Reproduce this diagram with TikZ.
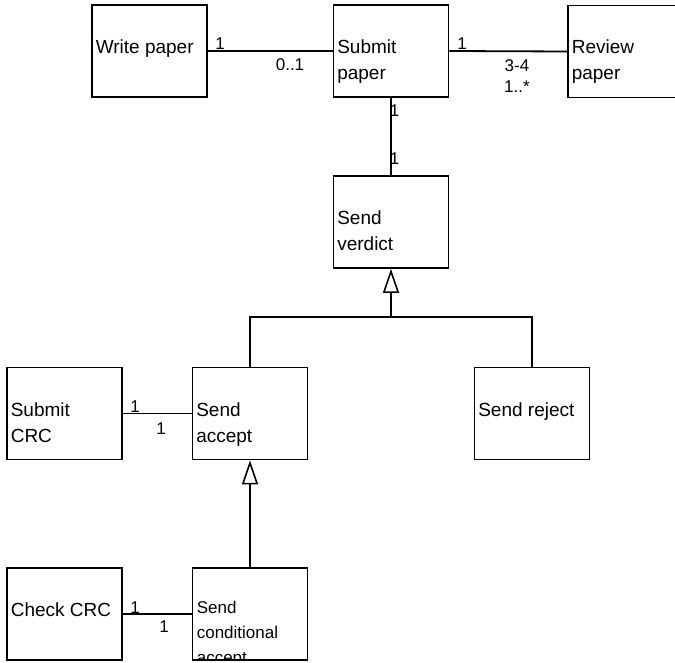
\documentclass[tikz,border=0pt]{standalone}
\usepackage{fontspec}
\setmainfont{Liberation Sans}
\usetikzlibrary{arrows.meta}
\begin{document}
\begin{tikzpicture}[x=1pt,y=-1pt,
  cls/.style={draw, line width=1.8pt, minimum width=115pt, minimum height=92pt,
    inner sep=0pt, fill=white},
  txt/.style={anchor=base west, inner sep=0pt, font=\fontsize{19}{26}\selectfont},
  smalltxt/.style={anchor=base west, inner sep=0pt, font=\fontsize{17}{25}\selectfont},
  lbl/.style={anchor=base, inner sep=0pt, font=\fontsize{17}{20}\selectfont},
  assoc/.style={line width=1.8pt},
  gen/.style={line width=1.8pt,
    -{Triangle[open, fill=white, length=24pt, width=16pt, line width=1.6pt]}}]
\useasboundingbox (0,0) rectangle (675,663);
\clip (0,0) rectangle (675,663);

% classes
\node[cls] (wp)  at (149.5,51)   {};
\node[cls] (sp)  at (391,51)     {};
\node[cls] (rp)  at (625.5,51.5) {};
\node[cls] (sv)  at (391,222)    {};
\node[cls] (sc)  at (64.5,413.5) {};
\node[cls] (sa)  at (250,413.5)  {};
\node[cls] (sr)  at (532,413.5)  {};
\node[cls] (cc)  at (64.5,614)   {};
\node[cls] (sca) at (250,614)    {};

% class names
\node[txt] at ([shift={(4.5,2.5)}]wp.west) {Write paper};
\node[txt] at ([shift={(4.5,2.5)}]sp.west) {\vtop{\hbox{Submit}\hbox{paper}}};
\node[txt] at ([shift={(4.5,2.5)}]rp.west) {\vtop{\hbox{Review}\hbox{paper}}};
\node[txt] at ([shift={(4.5,2.5)}]sv.west) {\vtop{\hbox{Send}\hbox{verdict}}};
\node[txt] at ([shift={(4.5,2.5)}]sc.west) {\vtop{\hbox{Submit}\hbox{CRC}}};
\node[txt] at ([shift={(4.5,2.5)}]sa.west) {\vtop{\hbox{Send}\hbox{accept}}};
\node[txt] at ([shift={(4.5,2.5)}]sr.west) {Send reject};
\node[txt] at ([shift={(4.5,2.5)}]cc.west) {Check CRC};
\begin{scope}
  \clip ([shift={(0.9,-0.9)}]sca.south west) rectangle ([shift={(-0.9,0.9)}]sca.north east);
  \node[smalltxt] at ([shift={(5,-1)}]sca.west)
    {\vtop{\hbox{Send}\hbox{conditional}\hbox{accept}}};
\end{scope}

% associations
\draw[assoc] (wp.east) -- (sp.west);
\draw[assoc] (sp.east) -- (rp.west);
\draw[assoc] (sp.south) -- (sv.north);
\draw[assoc] (sc.east) -- (sa.west);
\draw[assoc] (cc.east) -- (sca.west);

% generalizations
\coordinate (j1) at (391,317);
\draw[gen] (j1) -- (sv.south);
\draw[assoc] (sa.north) |- (j1) -| (sr.north);
\draw[gen] (sca.north) -- (sa.south);

% multiplicities
\node[lbl] at (220,49.5) {1};
\node[lbl] at (290,71) {0..1};
\node[lbl] at (462,49.5) {1};
\node[lbl] at (517,72) {3-4};
\node[lbl] at (517,93) {1..*};
\node[lbl] at (394.5,117) {1};
\node[lbl] at (394.5,165) {1};
\node[lbl] at (135,412.5) {1};
\node[lbl] at (161,434) {1};
\node[lbl] at (135,613) {1};
\node[lbl] at (164,632) {1};
\end{tikzpicture}
\end{document}
